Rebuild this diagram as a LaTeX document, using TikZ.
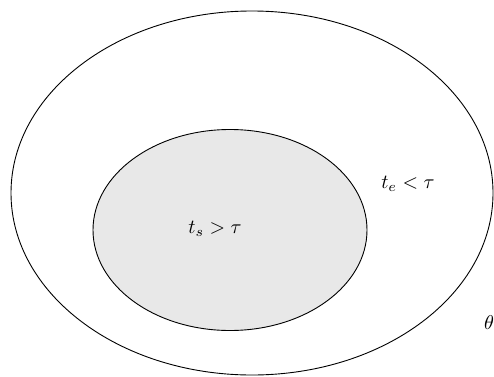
\documentclass[tikz,border=0pt]{standalone}
\usetikzlibrary{shapes.geometric}

\begin{document}
\begin{tikzpicture}[x=1pt, y=1pt,
  region/.style={ellipse, draw=black, line width=0.9pt, inner sep=0pt},
  lbl/.style={scale=2, inner sep=0pt}
]
\useasboundingbox (0,0) rectangle (494,376);

% Regions
\node[region, minimum width=482pt, minimum height=364pt] (space) at (252,183) {};
\node[region, fill=gray!18, minimum width=274pt, minimum height=201pt] (core) at (230,146) {};

% Labels
\node[lbl] (ts)    at (215,147) {$t_s > \tau$};
\node[lbl] (te)    at (408,192) {$t_e < \tau$};
\node[lbl] (theta) at (489,53)  {$\theta$};
\end{tikzpicture}
\end{document}
